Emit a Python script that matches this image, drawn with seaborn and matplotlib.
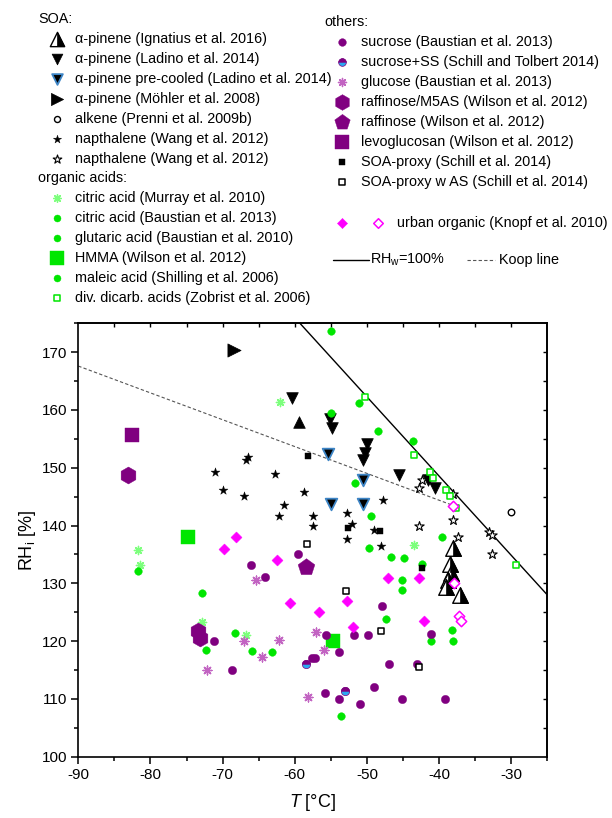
import numpy as np
import pandas as pd
import matplotlib
matplotlib.use("Agg")
import matplotlib.pyplot as plt
from matplotlib.markers import MarkerStyle
from matplotlib.ticker import MultipleLocator
import seaborn as sns

# ---------------- data ----------------
ign_T = [-38.1, -38.5, -38.3, -38.8, -39.0, -37.1]
ign_RH = [136.2, 133.3, 131.8, 130.5, 129.3, 128.0]

lad_T = [-60.4, -55.1, -54.9, -50.0, -50.2, -50.5, -45.5, -41.5, -40.5]
lad_RH = [162.0, 158.5, 156.9, 154.1, 152.6, 151.4, 148.8, 147.8, 146.5]
lad_up_T = [-59.4]
lad_up_RH = [157.9]

pre_T = [-55.4, -50.5, -55.0, -50.5]
pre_RH = [152.3, 147.8, 143.7, 143.7]

moh_T = [-68.4]
moh_RH = [170.3]

alk_T = [-30.0]
alk_RH = [142.4]

nap_T = [-71.1, -66.5, -66.7, -62.8, -69.9, -67.0, -58.7, -61.5, -62.2, -57.5,
         -57.5, -52.8, -52.0, -52.8, -49.0, -48.1, -47.8]
nap_RH = [149.2, 151.8, 151.3, 149.0, 146.2, 145.1, 145.8, 143.5, 141.6, 141.6,
          140.0, 142.2, 140.3, 137.6, 139.3, 136.4, 144.4]

nap2_T = [-42.4, -42.8, -38.1, -38.0, -42.8, -37.4, -33.1, -32.7, -32.7]
nap2_RH = [147.8, 146.5, 145.4, 141.0, 139.9, 138.1, 138.9, 138.3, 135.0]

mur_T = [-62.0, -81.7, -81.5, -72.8, -66.8, -43.5]
mur_RH = [161.4, 135.8, 133.1, 123.3, 121.0, 136.6]

cit_T = [-72.8, -68.3, -72.3, -65.9, -63.1, -53.6, -81.7, -47.4, -41.1, -38.1, -38.2]
cit_RH = [128.4, 121.4, 118.4, 118.3, 118.1, 107.1, 132.1, 123.9, 120.1, 120.1, 122.0]

glu_T = [-55.0, -51.1, -55.0, -48.4, -43.6, -51.7]
glu_RH = [173.6, 161.2, 159.4, 156.3, 154.6, 147.4]

hmma_T = [-74.8, -54.7]
hmma_RH = [138.1, 120.1]

mal_T = [-49.4, -49.7, -46.7, -44.8, -39.6, -42.4, -45.1, -45.1]
mal_RH = [141.6, 136.1, 134.5, 134.3, 138.0, 133.3, 130.6, 128.9]

zob_T = [-50.2, -43.5, -41.2, -40.8, -39.1, -38.5, -37.7, -29.3]
zob_RH = [162.2, 152.2, 149.2, 148.2, 146.2, 145.2, 143.0, 133.1]

suc_T = [-59.6, -66.1, -64.1, -47.9, -41.1, -55.7, -51.8, -49.8, -71.2, -53.8, -57.6,
         -57.2, -68.7, -47.0, -43.1, -55.8, -53.8, -50.9, -49.0, -45.2, -39.2]
suc_RH = [135.1, 133.1, 131.1, 126.1, 121.2, 121.1, 121.1, 121.1, 120.1, 118.1, 117.1,
          117.1, 115.0, 116.1, 116.1, 111.1, 110.0, 109.1, 112.1, 110.0, 110.0]

sss_T = [-58.4, -53.0]
sss_RH = [116.0, 111.4]

gluc_T = [-65.4, -57.1, -55.9, -62.2, -67.1, -64.5, -72.2, -58.1]
gluc_RH = [130.5, 121.6, 118.5, 120.2, 120.1, 117.2, 115.0, 110.3]

raf5_T = [-83.1, -73.4, -73.1]
raf5_RH = [148.7, 121.7, 120.6]

raf_T = [-58.5]
raf_RH = [132.8]

levo_T = [-82.5]
levo_RH = [155.6]

soa_T = [-58.2, -52.6, -48.2, -42.3]
soa_RH = [152.1, 139.6, 139.0, 132.7]

soaas_T = [-58.3, -52.9, -48.0, -42.8]
soaas_RH = [136.8, 128.7, 121.7, 115.5]

urb_T = [-68.2, -69.8, -62.4, -60.7, -56.7, -52.8, -51.9, -47.1, -42.8, -42.1]
urb_RH = [138.1, 135.9, 134.1, 126.6, 125.0, 127.0, 122.4, 130.9, 130.9, 123.5]

urbo_T = [-38.1, -37.9, -37.2, -37.0]
urbo_RH = [143.4, 130.1, 124.4, 123.4]

rhw_T = [-59.5, -25.0]
rhw_RH = [175.3, 128.0]

koop_T = [-90.0, -38.1]
koop_RH = [167.6, 143.5]

x_ticks = [-90, -80, -70, -60, -50, -40, -30]
y_ticks = [100, 110, 120, 130, 140, 150, 160, 170]

# ---------------- style ----------------
sns.set_theme(style="ticks")
plt.rcParams["font.family"] = ["Liberation Sans", "DejaVu Sans"]
plt.rcParams.update({
    "mathtext.fontset": "custom",
    "mathtext.rm": "Liberation Sans",
    "mathtext.it": "Liberation Sans:italic",
    "axes.edgecolor": "black",
    "text.color": "black",
    "axes.labelcolor": "black",
    "xtick.color": "black",
    "ytick.color": "black",
    "axes.linewidth": 1.2,
})

GREEN = "#00e600"
LGREEN = "#7dff7d"
PURPLE = "#800080"
MAGENTA = "#ff00ff"
GLUC = "#c264c2"
CYAN = "#2aa8f0"
BLUE = "#3d85c6"

fig = plt.figure(figsize=(6.12, 8.18), dpi=100)
W, H = 612, 818
x0, x1, ytop, ybot = 78.3, 547.3, 323.3, 756.7
ax = fig.add_axes([x0 / W, 1 - ybot / H, (x1 - x0) / W, (ybot - ytop) / H])

AST = (8, 2, 0)
half_tri = MarkerStyle("^", fillstyle="right")
half_circ = MarkerStyle("o", fillstyle="top")

# series: (T, RH, marker, size, face, edge, lw)
series = {
    "ign": (ign_T, ign_RH, "^", 125, "white", "black", 1.0),
    "lad": (lad_T, lad_RH, "v", 70, "black", "black", 0.5),
    "ladup": (lad_up_T, lad_up_RH, "^", 70, "black", "black", 0.5),
    "pre": (pre_T, pre_RH, "v", 70, "black", BLUE, 1.3),
    "moh": (moh_T, moh_RH, ">", 90, "black", "black", 0.5),
    "alk": (alk_T, alk_RH, "o", 22, "white", "black", 1.0),
    "nap": (nap_T, nap_RH, "*", 45, "black", "black", 0.3),
    "nap2": (nap2_T, nap2_RH, "*", 50, "white", "black", 0.8),
    "mur": (mur_T, mur_RH, AST, 35, LGREEN, LGREEN, 1.0),
    "cit": (cit_T, cit_RH, "o", 30, GREEN, GREEN, 0.3),
    "glu": (glu_T, glu_RH, "o", 30, GREEN, GREEN, 0.3),
    "hmma": (hmma_T, hmma_RH, "s", 110, GREEN, GREEN, 0.3),
    "mal": (mal_T, mal_RH, "o", 30, GREEN, GREEN, 0.3),
    "zob": (zob_T, zob_RH, "s", 20, "white", GREEN, 1.1),
    "suc": (suc_T, suc_RH, "o", 36, PURPLE, PURPLE, 0.3),
    "sss": (sss_T, sss_RH, "o", 36, CYAN, PURPLE, 0.5),
    "gluc": (gluc_T, gluc_RH, AST, 40, GLUC, GLUC, 1.0),
    "raf5": (raf5_T, raf5_RH, "h", 150, PURPLE, PURPLE, 0.3),
    "raf": (raf_T, raf_RH, "p", 160, PURPLE, PURPLE, 0.3),
    "levo": (levo_T, levo_RH, "s", 110, PURPLE, PURPLE, 0.3),
    "soa": (soa_T, soa_RH, "s", 24, "black", "black", 0.3),
    "soaas": (soaas_T, soaas_RH, "s", 22, "white", "black", 1.1),
    "urb": (urb_T, urb_RH, "D", 32, MAGENTA, MAGENTA, 0.3),
    "urbo": (urbo_T, urbo_RH, "D", 28, "white", MAGENTA, 1.1),
}

# lines
sns.lineplot(x=rhw_T, y=rhw_RH, ax=ax, color="black", lw=1.0, sort=False,
             estimator=None, zorder=2)
sns.lineplot(x=koop_T, y=koop_RH, ax=ax, color="#555555", lw=0.8, sort=False,
             estimator=None, linestyle=(0, (3, 2)), zorder=2)

for key, (T, RH, mk, s, fc, ec, lw) in series.items():
    sns.scatterplot(x=T, y=RH, ax=ax, marker=mk, s=s, color=fc, edgecolor=ec,
                    linewidth=lw, zorder=3)
    if key == "ign":
        sns.scatterplot(x=T, y=RH, ax=ax, marker=half_tri, s=s, color="black",
                        edgecolor="black", linewidth=0.5, zorder=3)
    if key == "sss":
        sns.scatterplot(x=T, y=RH, ax=ax, marker=half_circ, s=s, color=PURPLE,
                        edgecolor=PURPLE, linewidth=0.3, zorder=3)

ax.set_xlim(-90, -25)
ax.set_ylim(100, 175)
ax.set_xticks(x_ticks)
ax.set_yticks(y_ticks)
ax.set_xticklabels([str(t) for t in x_ticks])
ax.set_yticklabels([str(t) for t in y_ticks])
ax.xaxis.set_minor_locator(MultipleLocator(5))
ax.yaxis.set_minor_locator(MultipleLocator(5))
ax.tick_params(which="major", direction="out", length=5, width=1.1, labelsize=11, pad=3)
ax.tick_params(which="minor", direction="out", length=3, width=1.1)
for sp in ax.spines.values():
    sp.set_visible(True)
    sp.set_linewidth(1.2)

secx = ax.secondary_xaxis("top")
secx.set_xticks(np.arange(-85, -25, 5))
secx.tick_params(direction="in", length=3, width=1.0, labeltop=False)
secy = ax.secondary_yaxis("right")
secy.set_yticks(np.arange(105, 175, 5))
secy.tick_params(direction="in", length=3, width=1.0, labelright=False)

ax.set_xlabel("$T$ [°C]", fontsize=13, labelpad=7)
ax.set_ylabel("RH$_\\mathrm{i}$ [%]", fontsize=13, labelpad=3)

# ---------------- legend (manual layout in pixel space) ----------------
lax = fig.add_axes([0, 0, 1, 1])
lax.patch.set_visible(False)

FS = 10.4
left_rows = [
    ("hdr", "SOA:"),
    ("ign", "α-pinene (Ignatius et al. 2016)"),
    ("lad", "α-pinene (Ladino et al. 2014)"),
    ("pre", "α-pinene pre-cooled (Ladino et al. 2014)"),
    ("moh", "α-pinene (Möhler et al. 2008)"),
    ("alk", "alkene (Prenni et al. 2009b)"),
    ("nap", "napthalene (Wang et al. 2012)"),
    ("nap2", "napthalene (Wang et al. 2012)"),
    ("hdr", "organic acids:"),
    ("mur", "citric acid (Murray et al. 2010)"),
    ("cit", "citric acid (Baustian et al. 2013)"),
    ("glu", "glutaric acid (Baustian et al. 2010)"),
    ("hmma", "HMMA (Wilson et al. 2012)"),
    ("mal", "maleic acid (Shilling et al. 2006)"),
    ("zob", "div. dicarb. acids (Zobrist et al. 2006)"),
]
right_rows = [
    ("hdr", "others:"),
    ("suc", "sucrose (Baustian et al. 2013)"),
    ("sss", "sucrose+SS (Schill and Tolbert 2014)"),
    ("gluc", "glucose (Baustian et al. 2013)"),
    ("raf5", "raffinose/M5AS (Wilson et al. 2012)"),
    ("raf", "raffinose (Wilson et al. 2012)"),
    ("levo", "levoglucosan (Wilson et al. 2012)"),
    ("soa", "SOA-proxy (Schill et al. 2014)"),
    ("soaas", "SOA-proxy w AS (Schill et al. 2014)"),
]


def glyph(key, px, py, scale=0.85):
    T, RH, mk, s, fc, ec, lw = series[key]
    if mk == AST:
        lax.scatter([px], [py], marker=mk, s=s * scale, color=fc, linewidths=lw, zorder=3)
    else:
        lax.scatter([px], [py], marker=mk, s=s * scale, c=[fc], edgecolors=ec,
                    linewidths=lw, zorder=3)
    if key == "ign":
        lax.scatter([px], [py], marker=half_tri, s=s * scale, c=["black"],
                    edgecolors="black", linewidths=0.5, zorder=4)
    if key == "sss":
        lax.scatter([px], [py], marker=half_circ, s=s * scale, c=[PURPLE],
                    edgecolors=PURPLE, linewidths=0.3, zorder=4)


def draw_column(rows, y0, dy, hx, mx, tx):
    for i, (key, label) in enumerate(rows):
        y = y0 + i * dy
        if key == "hdr":
            lax.text(hx, y, label, fontsize=FS, va="center", ha="left")
        else:
            glyph(key, mx, y)
            lax.text(tx, y, label, fontsize=FS, va="center", ha="left")


draw_column(left_rows, 19.0, 19.93, 38, 56.7, 75)
draw_column(right_rows, 21.7, 20.0, 324, 342.3, 360.7)

# urban organic row
glyph("urb", 342.3, 223.3)
glyph("urbo", 378.3, 223.3)
lax.text(397.3, 223.3, "urban organic (Knopf et al. 2010)", fontsize=FS, va="center", ha="left")

# line legend row
sns.lineplot(x=[333, 369], y=[260, 260], ax=lax, color="black", lw=1.0, estimator=None)
lax.text(370, 260, "RH$_\\mathrm{w}$=100%", fontsize=FS, va="center", ha="left")
sns.lineplot(x=[466.7, 495], y=[260, 260], ax=lax, color="#555555", lw=0.8,
             estimator=None, linestyle=(0, (3, 2)))
lax.text(499, 260, "Koop line", fontsize=FS, va="center", ha="left")
lax.set_xlim(0, W)
lax.set_ylim(H, 0)
lax.axis("off")

fig.savefig("out.png", dpi=100)
